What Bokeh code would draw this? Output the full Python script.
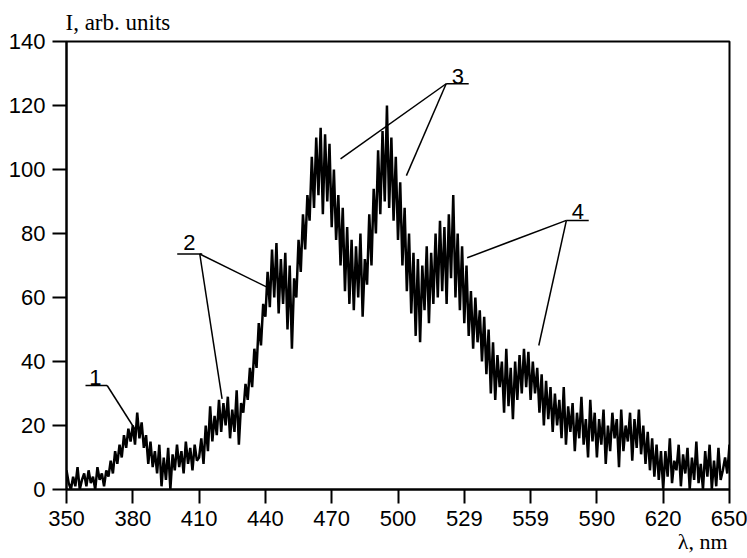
from bokeh.plotting import figure
from bokeh.models import Range1d, FixedTicker, Title
from bokeh.core.properties import value
from bokeh.embed import file_html
from bokeh.resources import INLINE

# Wavelength grid (nm), 1 nm steps, 350..650
wavelength = list(range(350, 651))

# Intensity (arb. units)
intensity = [
    6, 2, 0, 4, 1, 7, 0, 3, 5, 1,          # 350
    6, 2, 4, 0, 7, 3, 5, 1, 6, 4,          # 360
    9, 5, 12, 8, 14, 10, 17, 13, 19, 15,   # 370
    20, 14, 24, 16, 21, 13, 17, 8, 15, 7,  # 380
    12, 5, 14, 1, 10, 3, 13, 0, 11, 6,     # 390
    14, 7, 12, 5, 15, 8, 13, 6, 14, 9,     # 400
    10, 16, 8, 20, 12, 26, 15, 23, 17, 28, # 410
    18, 27, 20, 29, 16, 25, 18, 31, 14, 27,# 420
    24, 33, 28, 38, 32, 44, 38, 52, 45, 58,# 430
    54, 68, 57, 75, 60, 77, 55, 72, 58, 74,# 440
    50, 70, 44, 66, 60, 78, 68, 86, 75, 92,# 450
    84, 104, 88, 110, 92, 113, 86, 111, 90, 108,  # 460
    82, 100, 78, 92, 70, 88, 62, 82, 58, 78,      # 470
    56, 76, 60, 80, 54, 72, 64, 86, 70, 94,       # 480
    80, 106, 86, 112, 90, 120, 88, 110, 84, 104,  # 490
    78, 96, 70, 88, 62, 80, 55, 74, 48, 72,       # 500
    46, 70, 56, 76, 52, 74, 58, 80, 60, 84,       # 510
    62, 82, 58, 86, 66, 92, 60, 80, 56, 76,       # 520
    52, 70, 48, 62, 44, 60, 46, 56, 40, 54,       # 530
    36, 50, 30, 46, 28, 42, 32, 40, 24, 44,       # 540
    26, 38, 22, 40, 28, 42, 30, 44, 32, 43,       # 550
    28, 40, 30, 38, 24, 36, 20, 34, 22, 32,       # 560
    18, 30, 20, 28, 16, 32, 14, 26, 18, 27,       # 570
    12, 24, 16, 29, 14, 22, 10, 28, 15, 24,       # 580
    10, 22, 14, 25, 8, 20, 12, 24, 16, 22,        # 590
    7, 25, 12, 20, 15, 24, 9, 22, 13, 25,         # 600
    11, 20, 8, 18, 6, 16, 4, 14, 3, 12,           # 610
    0, 12, 4, 16, 2, 9, 6, 14, 1, 11,             # 620
    5, 13, 0, 10, 3, 15, 2, 8, 0, 12,             # 630
    4, 14, 0, 9, 1, 13, 3, 6, 10, 5,              # 640
    14,                                           # 650
]

x_ticks = [350, 380, 410, 440, 470, 500, 530, 560, 590, 620, 650]
x_tick_labels = ["350", "380", "410", "440", "470", "500", "529", "559", "590", "620", "650"]
y_ticks = [0, 20, 40, 60, 80, 100, 120, 140]
x_title = "λ, nm"
y_title = "I, arb. units"

# Curve labels: text, text position, underline span, leader-line end points
curve_labels = ["1", "2", "3", "4"]
label_x = [363.1, 405.6, 527.1, 581.4]
label_y = [34.9, 77.3, 129.1, 86.9]
underline_x0 = [358.6, 400.1, 521.8, 576.2]
underline_x1 = [368.4, 411.4, 532.0, 586.3]
underline_y = [32.5, 73.6, 126.8, 84.1]
leader_start_x = [368.4, 410.3, 521.8, 576.2]
leader_ends = [
    [(381.2, 18.6)],
    [(442.3, 62.7), (420.4, 28.3)],
    [(474.0, 103.3), (503.8, 98.1)],
    [(531.3, 72.4), (563.7, 45.0)],
]

p = figure(width=747, height=558,
           x_range=Range1d(350, 650), y_range=Range1d(0, 140),
           output_backend="svg", toolbar_location=None,
           min_border_left=66, min_border_right=18,
           min_border_top=41, min_border_bottom=69)

# title used as the y-quantity label at top-left
p.title.text = y_title
p.title.align = "left"
p.title.offset = -1
p.title.standoff = 13
p.title.text_font = "Liberation Serif"
p.title.text_font_style = "normal"
p.title.text_font_size = "23px"
p.title.text_color = "black"

# x-quantity label at bottom-right
p.add_layout(Title(text=x_title, align="right", offset=2, standoff=0,
                   vertical_align="top",
                   text_font="Liberation Serif", text_font_style="normal",
                   text_font_size="22px", text_color="black"), "below")

p.xgrid.visible = False
p.ygrid.visible = False
p.outline_line_color = "black"
p.outline_line_width = 2
p.outline_line_alpha = 1

p.line(wavelength, intensity, line_color="black", line_width=2.5)

for ax in (p.xaxis[0], p.yaxis[0]):
    ax.axis_line_color = "black"
    ax.axis_line_width = 2
    ax.major_tick_line_color = "black"
    ax.major_tick_line_width = 2
    ax.major_tick_out = 14
    ax.major_tick_in = 0
    ax.minor_tick_line_color = None
    ax.major_label_text_font = "Liberation Sans"
    ax.major_label_text_font_size = "22px"
    ax.major_label_text_color = "black"

p.xaxis[0].ticker = FixedTicker(ticks=x_ticks)
p.xaxis[0].major_label_overrides = {t: s for t, s in zip(x_ticks, x_tick_labels)}
p.xaxis[0].major_label_standoff = 7
p.yaxis[0].ticker = FixedTicker(ticks=y_ticks)
p.yaxis[0].major_label_standoff = 7

# curve labels with underline and leader lines
p.text(label_x, label_y, text=curve_labels, text_font=value("Liberation Sans"),
       text_font_size="22px", text_align="center", text_baseline="alphabetic",
       text_color="black")
p.segment(underline_x0, underline_y, underline_x1, underline_y,
          line_color="black", line_width=1.5)
sx, sy, ex, ey = [], [], [], []
for i, ends in enumerate(leader_ends):
    for (a, b) in ends:
        sx.append(leader_start_x[i]); sy.append(underline_y[i])
        ex.append(a); ey.append(b)
p.segment(sx, sy, ex, ey, line_color="black", line_width=1.5)

open("out.html", "w").write(file_html(p, INLINE))
